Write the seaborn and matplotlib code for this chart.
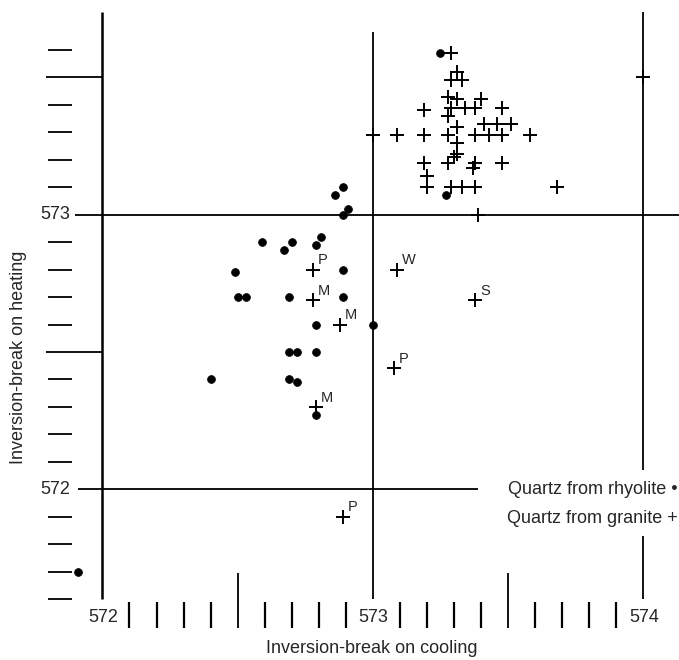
import matplotlib
matplotlib.use("Agg")
import matplotlib.pyplot as plt
import seaborn as sns
import pandas as pd

sns.set_style("white")
plt.rcParams['font.family'] = ['Liberation Sans', 'DejaVu Sans']

# ---- data ----
granite_x = [573.29, 573.31, 573.29, 573.33, 573.28, 573.31, 573.29, 573.34, 573.28, 573.38, 573.40, 573.48, 573.19,
             573.00, 573.09, 573.19, 573.28, 573.31, 573.38, 573.41, 573.43, 573.46, 573.48, 573.51, 573.58, 573.31, 573.31,
             573.19, 573.28, 573.30, 573.38, 573.37, 573.48,
             573.20, 573.20, 573.29, 573.33, 573.38, 573.68,
             573.39, 574.00]
granite_y = [573.59, 573.52, 573.49, 573.49, 573.43, 573.42, 573.39, 573.39, 573.36, 573.39, 573.42, 573.39, 573.38,
             573.29, 573.29, 573.29, 573.29, 573.32, 573.29, 573.33, 573.29, 573.33, 573.29, 573.33, 573.29, 573.26, 573.22,
             573.19, 573.19, 573.21, 573.19, 573.17, 573.19,
             573.14, 573.10, 573.10, 573.10, 573.10, 573.10,
             573.00, 573.50]

labeled_x = [572.78, 572.78, 572.88, 572.79, 573.09, 573.38, 573.08, 572.89]
labeled_y = [572.80, 572.69, 572.60, 572.30, 572.80, 572.69, 572.44, 571.90]
labeled_txt = ["P", "M", "M", "M", "W", "S", "P", "P"]

rhyolite_x = [573.25, 573.27, 571.91,
              572.86, 572.89, 572.91, 572.89,
              572.59, 572.67, 572.70, 572.79, 572.81,
              572.49, 572.89,
              572.50, 572.53, 572.69, 572.89,
              572.79, 573.00,
              572.69, 572.72, 572.79,
              572.40, 572.69, 572.72,
              572.79]
rhyolite_y = [573.59, 573.07, 571.70,
              573.07, 573.10, 573.02, 573.00,
              572.90, 572.87, 572.90, 572.89, 572.92,
              572.79, 572.80,
              572.70, 572.70, 572.70, 572.70,
              572.60, 572.60,
              572.50, 572.50, 572.50,
              572.40, 572.40, 572.39,
              572.27]

major_vals = [572, 573, 574]
major_labels = ["572", "573", "574"]
y_major_vals = [572, 573]
y_major_labels = ["572", "573"]
x_minor = [572.1, 572.2, 572.3, 572.4, 572.6, 572.7, 572.8, 572.9,
           573.1, 573.2, 573.3, 573.4, 573.6, 573.7, 573.8, 573.9]
x_half = [572.5, 573.5]
y_minor = [571.6, 571.7, 571.8, 571.9, 572.1, 572.2, 572.3, 572.4, 572.6, 572.7,
           572.8, 572.9, 573.1, 573.2, 573.3, 573.4, 573.6]
y_half = [572.5, 573.5]

legend_labels = ["Quartz from rhyolite •", "Quartz from granite +"]
x_title = "Inversion-break on cooling"
y_title = "Inversion-break on heating"

# ---- figure ----
fig = plt.figure(figsize=(6.79, 6.60), dpi=100)
ax = fig.add_axes([0, 0, 1, 1])
ax.set_xlim(571.621, 574.133)
ax.set_ylim(571.378, 573.782)
ax.axis("off")

lw = 1.3
# grid lines
ax.hlines(573, 571.90, 574.133, color="black", lw=lw)
ax.hlines(572, 571.91, 573.39, color="black", lw=lw)
ax.vlines(572, 571.60, 573.74, color="black", lw=1.8)
ax.vlines(573, 571.60, 573.665, color="black", lw=lw)
ax.vlines(574, 572.07, 573.74, color="black", lw=lw)
ax.vlines(574, 571.60, 571.83, color="black", lw=lw)

# tick dashes (y) and bars (x)
ax.hlines(y_minor, 571.798, 571.887, color="black", lw=1.3)
ax.hlines(y_half, 571.79, 572.0, color="black", lw=1.3)
ax.vlines(x_minor, 571.495, 571.589, color="black", lw=1.6)
ax.vlines(x_half, 571.495, 571.694, color="black", lw=1.3)

# tick labels
for v, t in zip(major_vals, major_labels):
    ax.text(v + 0.003, 571.531, t, ha="center", va="center", fontsize=13)
for v, t in zip(y_major_vals, y_major_labels):
    ax.text(571.882, v, t, ha="right", va="center", fontsize=13)

# points
df_g = pd.DataFrame({"x": granite_x + labeled_x, "y": granite_y + labeled_y})
df_r = pd.DataFrame({"x": rhyolite_x, "y": rhyolite_y})
sns.scatterplot(data=df_g, x="x", y="y", marker="+", s=100, color="black",
                linewidth=1.4, ax=ax, zorder=3)
sns.scatterplot(data=df_r, x="x", y="y", marker="o", s=32, color="black",
                edgecolor="black", linewidth=0.5, ax=ax, zorder=3)
for x, y, t in zip(labeled_x, labeled_y, labeled_txt):
    ax.annotate(t, (x, y), xytext=(3.2, 1.6), textcoords="offset points",
                ha="left", va="bottom", fontsize=10.5)

# legend text
ax.text(574.128, 572.0, legend_labels[0], ha="right", va="center", fontsize=13)
ax.text(574.128, 571.895, legend_labels[1], ha="right", va="center", fontsize=13)

# axis titles
ax.text(572.995, 571.42, x_title, ha="center", va="center", fontsize=13)
ax.text(571.688, 572.48, y_title, ha="center", va="center", rotation=90, fontsize=13)

ax.set_xlabel("")
ax.set_ylabel("")
fig.savefig("out.png", dpi=100)
